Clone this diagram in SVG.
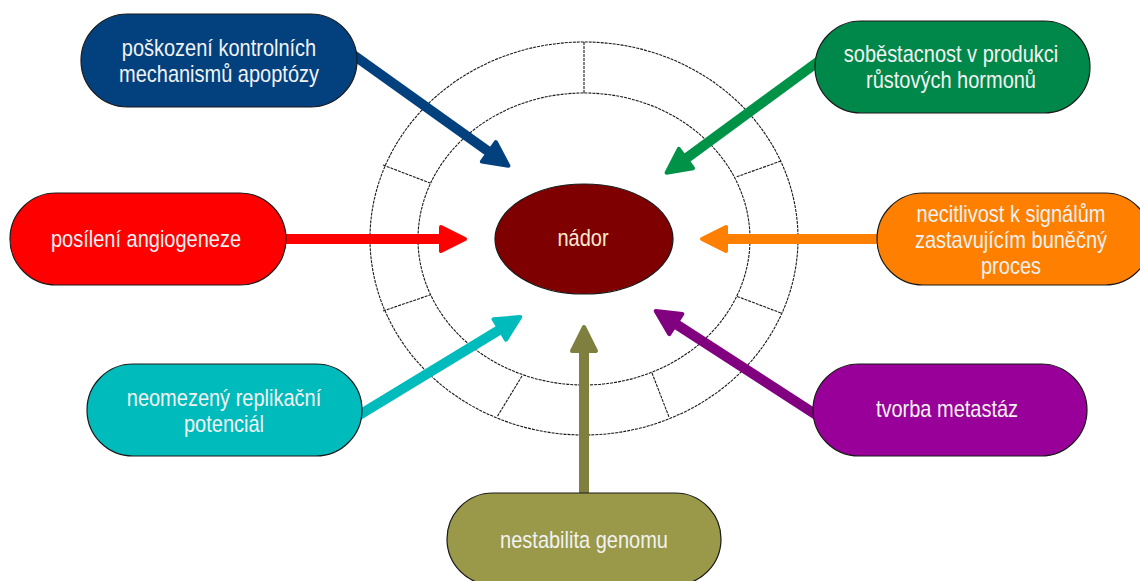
<svg xmlns="http://www.w3.org/2000/svg" width="1140" height="581" viewBox="0 0 1140 581">
<style>
.ring{fill:none;stroke:#1a1a1a;stroke-width:1.1;stroke-dasharray:3 1}
.box{stroke:#1a1a1a;stroke-width:1.2}
.lbl{font-family:"Liberation Sans",Arial,sans-serif;font-size:20px;fill:#f2f2f2;text-anchor:middle;dominant-baseline:central}
.arr{fill:none;stroke-width:10;stroke-linecap:butt}
.head{stroke-width:4;stroke-linejoin:round}
</style>
<defs>
<marker id="hBlue" viewBox="0 0 30 30" markerUnits="userSpaceOnUse" markerWidth="30" markerHeight="30" refX="9" refY="15" orient="auto" overflow="visible"><path class="head" d="M3,3 L27,15 L3,27 Z" fill="#02407E" stroke="#02407E"/></marker>
<marker id="hGreen" viewBox="0 0 30 30" markerUnits="userSpaceOnUse" markerWidth="30" markerHeight="30" refX="9" refY="15" orient="auto" overflow="visible"><path class="head" d="M3,3 L27,15 L3,27 Z" fill="#009347" stroke="#009347"/></marker>
<marker id="hRed" viewBox="0 0 30 30" markerUnits="userSpaceOnUse" markerWidth="30" markerHeight="30" refX="9" refY="15" orient="auto" overflow="visible"><path class="head" d="M3,3 L27,15 L3,27 Z" fill="#FF0000" stroke="#FF0000"/></marker>
<marker id="hOrange" viewBox="0 0 30 30" markerUnits="userSpaceOnUse" markerWidth="30" markerHeight="30" refX="9" refY="15" orient="auto" overflow="visible"><path class="head" d="M3,3 L27,15 L3,27 Z" fill="#FF8000" stroke="#FF8000"/></marker>
<marker id="hCyan" viewBox="0 0 30 30" markerUnits="userSpaceOnUse" markerWidth="30" markerHeight="30" refX="9" refY="15" orient="auto" overflow="visible"><path class="head" d="M3,3 L27,15 L3,27 Z" fill="#00BBBB" stroke="#00BBBB"/></marker>
<marker id="hPurple" viewBox="0 0 30 30" markerUnits="userSpaceOnUse" markerWidth="30" markerHeight="30" refX="9" refY="15" orient="auto" overflow="visible"><path class="head" d="M3,3 L27,15 L3,27 Z" fill="#800080" stroke="#800080"/></marker>
<marker id="hOlive" viewBox="0 0 30 30" markerUnits="userSpaceOnUse" markerWidth="30" markerHeight="30" refX="9" refY="15" orient="auto" overflow="visible"><path class="head" d="M3,3 L27,15 L3,27 Z" fill="#7F7F40" stroke="#7F7F40"/></marker>
</defs>
<rect width="1140" height="581" fill="#fff"/>
<g id="ring">
<ellipse class="ring" cx="584" cy="238.5" rx="214" ry="196.5"/>
<ellipse class="ring" cx="584" cy="239" rx="166" ry="146"/>
<line class="ring" x1="584" y1="42" x2="584" y2="93"/>
<line class="ring" x1="383" y1="165" x2="430" y2="183"/>
<line class="ring" x1="383" y1="311" x2="430" y2="295"/>
<line class="ring" x1="781" y1="161" x2="736" y2="177"/>
<line class="ring" x1="781" y1="313" x2="736" y2="296"/>
<line class="ring" x1="522" y1="376" x2="497" y2="417"/>
<line class="ring" x1="652" y1="373" x2="669" y2="417"/>
<line class="ring" x1="584" y1="385" x2="584" y2="435"/>
</g>
<g id="node-nador">
<ellipse cx="584" cy="239" rx="89" ry="55" fill="#7F0000" stroke="#1a1a1a" stroke-width="1.2"/>
<text class="lbl" style="fill:#ffe8d0" transform="translate(583,238) scale(1,1.2)" x="0" y="0">nádor</text>
</g>
<g id="connectors">
<line class="arr" stroke="#02407E" x1="352" y1="54" x2="493.7" y2="155.3" marker-end="url(#hBlue)"/>
<line class="arr" stroke="#009347" x1="819" y1="61" x2="681.1" y2="162.1" marker-end="url(#hGreen)"/>
<line class="arr" stroke="#FF0000" x1="280" y1="239" x2="447" y2="239" marker-end="url(#hRed)"/>
<line class="arr" stroke="#FF8000" x1="883" y1="239" x2="720" y2="239" marker-end="url(#hOrange)"/>
<line class="arr" stroke="#00BBBB" x1="356" y1="417" x2="504.9" y2="326.4" marker-end="url(#hCyan)"/>
<line class="arr" stroke="#800080" x1="818" y1="416" x2="670.8" y2="320.8" marker-end="url(#hPurple)"/>
<line class="arr" stroke="#7F7F40" x1="584" y1="500" x2="584" y2="345" marker-end="url(#hOlive)"/>
</g>
<g id="node-apoptoza">
<rect class="box" x="81" y="14" width="276" height="93" rx="46.5" fill="#02407E"/>
<text class="lbl" transform="translate(219,60.5) scale(1,1.2)"><tspan x="0" y="-10.6">poškození kontrolních</tspan><tspan x="0" y="10.6">mechanismů apoptózy</tspan></text>
</g>
<g id="node-hormony">
<rect class="box" x="815" y="21" width="275" height="92" rx="46" fill="#00884A"/>
<text class="lbl" transform="translate(951,66.5) scale(1,1.2)"><tspan x="0" y="-11">soběstacnost v produkci</tspan><tspan x="0" y="11">růstových hormonů</tspan></text>
</g>
<g id="node-angiogeneze">
<rect class="box" x="10" y="193" width="276" height="92" rx="46" fill="#FF0000"/>
<text class="lbl" transform="translate(146,239) scale(1,1.2)" x="0" y="0">posílení angiogeneze</text>
</g>
<g id="node-necitlivost">
<rect class="box" x="877" y="193" width="274" height="92" rx="46" fill="#FF8000"/>
<text class="lbl" transform="translate(1011,239.5) scale(1,1.2)"><tspan x="0" y="-21.7">necitlivost k signálům</tspan><tspan x="0" y="0">zastavujícím buněčný</tspan><tspan x="0" y="21.7">proces</tspan></text>
</g>
<g id="node-replikace">
<rect class="box" x="87" y="364" width="275" height="92" rx="46" fill="#00BBBB"/>
<text class="lbl" transform="translate(224,410) scale(1,1.2)"><tspan x="0" y="-10.8">neomezený replikační</tspan><tspan x="0" y="10.8">potenciál</tspan></text>
</g>
<g id="node-metastazy">
<rect class="box" x="813" y="364" width="274" height="92" rx="46" fill="#990099"/>
<text class="lbl" transform="translate(947,409) scale(1,1.2)" x="0" y="0">tvorba metastáz</text>
</g>
<g id="node-genom">
<rect class="box" x="447" y="493" width="274" height="92" rx="46" fill="#999949"/>
<text class="lbl" transform="translate(584,540) scale(1,1.2)" x="0" y="0">nestabilita genomu</text>
</g>
</svg>
